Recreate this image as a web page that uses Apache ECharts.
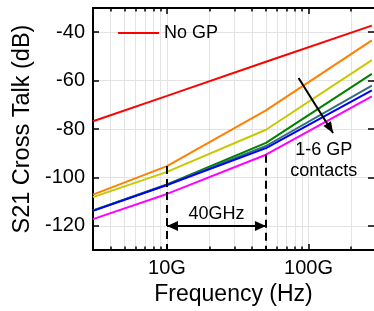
<!DOCTYPE html>
<html><head><meta charset="utf-8">
<script src="https://cdn.jsdelivr.net/npm/echarts@6/dist/echarts.min.js"></script>
<style>html,body{margin:0;padding:0;background:#fff}#c{width:374px;height:311px}</style>
</head><body><div id="c"></div>
<script>
// Frequencies (GHz) at which the curves are sampled
const freqGHz = [3, 10, 50, 280];
// S21 cross talk (dB)
const noGP = [-76.8, -66.3, -52.2, -37.3];
const gp1 = [-107.1, -95.3, -72.3, -43.4];
const gp2 = [-108.1, -97.7, -80.3, -51.5];
const gp3 = [-113.6, -102.9, -85.7, -57.2];
const gp4 = [-113.7, -103.0, -87.0, -62.1];
const gp5 = [-113.8, -103.1, -87.9, -64.0];
const gp6 = [-117.2, -106.8, -90.6, -66.5];
// Axis ticks
const xMajorGHz = [10, 100];
const xMinorGHz = [4, 5, 6, 7, 8, 9, 10, 20, 30, 40, 50, 60, 70, 80, 90, 100, 200];
const yTicks = [-120, -100, -80, -60, -40];
// 40 GHz window
const spanGHz = [10, 50];

const FONT = 'Liberation Sans, Arial, sans-serif';
const G = 1e9;
const xMin = 3 * G, xMax = 290 * G;
const yMin = -130, yMax = -30;
const toPts = vals => freqGHz.map((f, i) => [f * G, vals[i]]);
const major = xMajorGHz.map(f => f * G);
const minor = xMinorGHz.map(f => f * G);

function xAxisCfg(pos, isMajor, withLabel) {
  return {
    type: 'log', position: pos, min: xMin, max: xMax, gridIndex: 0,
    axisLine: { show: isMajor, onZero: false, lineStyle: { color: '#000', width: 2 } },
    axisTick: { show: true, inside: true, length: isMajor ? 6 : 3.5,
      customValues: isMajor ? major : minor, lineStyle: { color: '#000', width: 1.5 } },
    axisLabel: withLabel ? { show: true, customValues: major, margin: 8,
      formatter: v => Math.round(v / G) + 'G', fontSize: 20, color: '#000', fontFamily: FONT } : { show: false },
    splitLine: { show: !isMajor && pos === 'bottom', lineStyle: { color: '#e3e3e3', width: 1 } },
    name: withLabel ? 'Frequency (Hz)' : '', nameLocation: 'middle', nameGap: 29,
    nameTextStyle: { fontSize: 23, color: '#000', fontFamily: FONT }
  };
}

const colors = ['#ff0000', '#ff8000', '#c8c800', '#008000', '#2f6f78', '#0000ff', '#ff00ff'];
const names = ['No GP', '1 GP', '2 GP', '3 GP', '4 GP', '5 GP', '6 GP'];
const sets = [noGP, gp1, gp2, gp3, gp4, gp5, gp6];
const order = [1, 2, 3, 4, 5, 6, 0];

const series = order.map(i => ({
  name: names[i], type: 'line', xAxisIndex: 0, yAxisIndex: 0,
  data: toPts(sets[i]), showSymbol: false, symbol: 'none',
  lineStyle: { color: colors[i], width: 2 }, itemStyle: { color: colors[i] },
  z: 3
}));

const dashStyle = { color: '#000', width: 2, type: [8, 5] };
const arrowStyle = { color: '#000', width: 2, type: 'solid' };
series[5].markLine = {
  silent: true, animation: false, symbol: ['none', 'none'],
  label: { show: false },
  data: [
    [{ coord: [spanGHz[0] * G, gp1[1]], lineStyle: dashStyle }, { coord: [spanGHz[0] * G, yMin] }],
    [{ coord: [spanGHz[1] * G, gp6[2]], lineStyle: dashStyle }, { coord: [spanGHz[1] * G, yMin] }],
    [{ coord: [spanGHz[0] * G, -120], symbol: 'triangle', symbolSize: [10, 11], symbolOffset: [0, 5.5],
       lineStyle: arrowStyle,
       label: { show: true, position: 'middle', formatter: '40GHz', distance: 3, fontSize: 18, color: '#000', fontFamily: FONT } },
     { coord: [spanGHz[1] * G, -120], symbol: 'triangle', symbolSize: [10, 11], symbolOffset: [0, 5.5] }],
    [{ coord: [85 * G, -58.9], symbol: 'none', lineStyle: arrowStyle },
     { coord: [149 * G, -81.6], symbol: 'triangle', symbolSize: [9, 11], symbolOffset: [0, 5.5] }]
  ]
};
series[5].markPoint = {
  silent: true, animation: false,
  data: [{ coord: [128 * G, -93], symbol: 'circle', symbolSize: 1, itemStyle: { color: 'rgba(0,0,0,0)' },
    label: { show: true, position: 'inside', formatter: '1-6 GP\ncontacts', fontSize: 18, lineHeight: 21,
      color: '#000', fontFamily: FONT } }]
};

const chart = echarts.init(document.getElementById('c'), null, { renderer: 'canvas' });
chart.setOption({
  animation: false,
  backgroundColor: '#fff',
  grid: { left: 93, top: 8, width: 283.5, height: 249, containLabel: false },
  legend: {
    data: ['No GP'], left: 118, top: 24, padding: 0, icon: 'rect', itemWidth: 41, itemHeight: 2,
    textStyle: { fontSize: 18, color: '#000', fontFamily: FONT }, selectedMode: false
  },
  xAxis: [
    xAxisCfg('bottom', true, true),
    xAxisCfg('bottom', false, false),
    xAxisCfg('top', true, false),
    xAxisCfg('top', false, false)
  ],
  yAxis: [
    {
      type: 'value', position: 'left', min: yMin, max: yMax,
      axisLine: { show: true, onZero: false, lineStyle: { color: '#000', width: 2 } },
      axisTick: { show: true, inside: true, length: 6, customValues: yTicks, lineStyle: { color: '#000', width: 1.5 } },
      axisLabel: { customValues: yTicks, margin: 8, fontSize: 20, color: '#000', fontFamily: FONT },
      splitLine: { show: true, lineStyle: { color: '#e3e3e3', width: 1 } },
      name: 'S21 Cross Talk (dB)', nameLocation: 'middle', nameGap: 57,
      nameTextStyle: { fontSize: 23.5, color: '#000', fontFamily: FONT }
    },
    {
      type: 'value', position: 'right', min: yMin, max: yMax,
      axisLine: { show: false, onZero: false },
      axisTick: { show: true, inside: true, length: 6, customValues: yTicks, lineStyle: { color: '#000', width: 1.5 } },
      axisLabel: { show: false }, splitLine: { show: false }
    }
  ],
  series: series
});
</script>
</body></html>
